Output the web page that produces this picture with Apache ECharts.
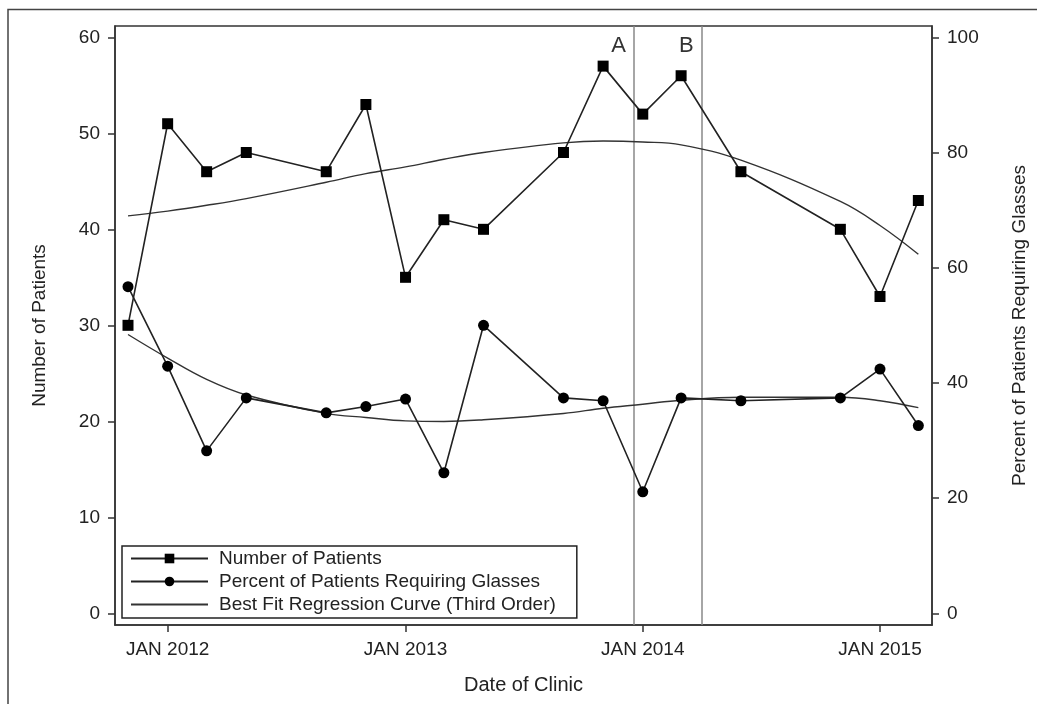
<!DOCTYPE html>
<html>
<head>
<meta charset="utf-8">
<title>Clinic patients and glasses</title>
<script src="https://cdn.jsdelivr.net/npm/echarts@6/dist/echarts.min.js"></script>
<style>
  html, body { margin: 0; padding: 0; background: #fff; }
  #chart { width: 1037px; height: 704px; }
</style>
</head>
<body>
<div id="chart"></div>
<script>
// clinic dates and readings
const clinicDates = [
  '2011-11-01', '2012-01-01', '2012-03-01', '2012-05-01', '2012-09-01', '2012-11-01',
  '2013-01-01', '2013-03-01', '2013-05-01', '2013-09-01', '2013-11-01', '2014-01-01',
  '2014-03-01', '2014-06-01', '2014-11-01', '2015-01-01', '2015-03-01'
]
const patients = [30, 51, 46, 48, 46, 53, 35, 41, 40, 48, 57, 52, 56, 46, 40, 33, 43]
const percentGlasses = [56.7, 42.9, 28.2, 37.4, 34.8, 35.9, 37.2, 24.4, 50, 37.4, 36.9, 21.1, 37.4, 36.9, 37.4, 42.4, 32.6]

// third order fits at the clinic dates
const patientsFit = [41.4, 41.9, 42.5, 43.2, 44.9, 45.8, 46.5, 47.3, 48.0, 49.0, 49.2, 49.1, 48.8, 47.2, 42.9, 40.4, 37.4]
const percentFit = [48.4, 44.3, 40.6, 37.9, 34.7, 34.0, 33.4, 33.3, 33.6, 34.7, 35.6, 36.3, 37.0, 37.5, 37.5, 36.9, 35.7]

const eventDates = ['2013-12-18', '2014-04-01']
const eventLabels = ['A', 'B']

const yearTicks = ['2012-01-01', '2013-01-01', '2014-01-01', '2015-01-01']
const patientTicks = [0, 10, 20, 30, 40, 50, 60]
const percentTicks = [0, 20, 40, 60, 80, 100]

const FIT_NAME = 'Best Fit Regression Curve (Third Order)'
const ts = d => Date.parse(d)
const font = 'Arial, "Liberation Sans", sans-serif'
const ink = '#222'

const chart = echarts.init(document.getElementById('chart'))

const option = {
  animation: false,
  backgroundColor: '#fff',
  textStyle: { fontFamily: font, color: ink },
  graphic: [
    {
      type: 'rect',
      shape: { x: 8, y: 9.5, width: 1040, height: 720 },
      style: { fill: 'none', stroke: '#444', lineWidth: 1.5 },
      silent: true,
    },
  ],
  grid: {
    left: 115,
    right: 104,
    top: 26,
    bottom: 79,
    show: true,
    borderColor: '#333',
    borderWidth: 1.5,
  },
  legend: {
    orient: 'vertical',
    left: 122,
    top: 546,
    padding: [3, 21, 4, 8],
    itemGap: 4,
    itemWidth: 77,
    itemHeight: 12,
    backgroundColor: '#fff',
    borderColor: '#222',
    borderWidth: 1.5,
    borderRadius: 0,
    textStyle: { fontSize: 19, lineHeight: 19, color: ink, fontFamily: font, padding: [0, 0, 0, 6] },
    data: [
      'Number of Patients',
      'Percent of Patients Requiring Glasses',
      { name: FIT_NAME, itemStyle: { opacity: 0 } },
    ],
  },
  xAxis: {
    type: 'value',
    min: ts('2011-10-12'),
    max: ts('2015-03-22'),
    name: 'Date of Clinic',
    nameLocation: 'middle',
    nameGap: 50,
    nameTextStyle: { fontSize: 20, color: ink },
    axisLine: { onZero: false, lineStyle: { color: '#333', width: 1.5 } },
    axisTick: { length: 7, lineStyle: { color: '#333', width: 1.5 }, customValues: yearTicks.map(ts) },
    axisLabel: {
      fontSize: 19,
      color: ink,
      margin: 15,
      customValues: yearTicks.map(ts),
      formatter: v => 'JAN ' + new Date(v).getUTCFullYear(),
    },
    splitLine: { show: false },
  },
  yAxis: [
    {
      type: 'value',
      min: -1.22,
      max: 61.18,
      name: 'Number of Patients',
      nameLocation: 'middle',
      nameGap: 66,
      nameTextStyle: { fontSize: 19, color: ink },
      axisLine: { show: true, onZero: false, lineStyle: { color: '#333', width: 1.5 } },
      axisTick: { show: true, length: 7, lineStyle: { color: '#333', width: 1.5 }, customValues: patientTicks },
      axisLabel: { fontSize: 19, color: ink, margin: 15, customValues: patientTicks },
      splitLine: { show: false },
    },
    {
      type: 'value',
      min: -2.03,
      max: 101.96,
      position: 'right',
      name: 'Percent of Patients Requiring Glasses',
      nameLocation: 'middle',
      nameGap: 78,
      nameTextStyle: { fontSize: 19, color: ink },
      axisLine: { show: true, onZero: false, lineStyle: { color: '#333', width: 1.5 } },
      axisTick: { show: true, length: 7, lineStyle: { color: '#333', width: 1.5 }, customValues: percentTicks },
      axisLabel: { fontSize: 19, color: ink, margin: 15, customValues: percentTicks },
      splitLine: { show: false },
    },
  ],
  series: [
    {
      name: 'Number of Patients',
      type: 'line',
      yAxisIndex: 0,
      data: clinicDates.map((d, i) => [ts(d), patients[i]]),
      symbol: 'rect',
      symbolSize: 11,
      lineStyle: { color: ink, width: 1.6 },
      itemStyle: { color: '#000' },
      z: 3,
      markLine: {
        silent: true,
        symbol: 'none',
        label: { show: false },
        lineStyle: { color: '#888', width: 1.5, type: 'solid' },
        data: eventDates.map(d => ({ xAxis: ts(d) })),
        z: 1,
      },
      markPoint: {
        silent: true,
        symbol: 'circle',
        symbolSize: 0,
        label: {
          show: true,
          position: 'inside',
          offset: [-15, 0],
          fontSize: 22,
          color: '#333',
          formatter: p => p.name,
        },
        data: eventDates.map((d, i) => ({ name: eventLabels[i], coord: [ts(d), 59.1] })),
      },
    },
    {
      name: 'Percent of Patients Requiring Glasses',
      type: 'line',
      yAxisIndex: 1,
      data: clinicDates.map((d, i) => [ts(d), percentGlasses[i]]),
      symbol: 'circle',
      symbolSize: 11,
      lineStyle: { color: ink, width: 1.6 },
      itemStyle: { color: '#000' },
      z: 3,
    },
    {
      name: FIT_NAME,
      type: 'line',
      yAxisIndex: 0,
      data: clinicDates.map((d, i) => [ts(d), patientsFit[i]]),
      smooth: 0.4,
      symbol: 'none',
      lineStyle: { color: '#333', width: 1.4 },
      itemStyle: { color: '#333' },
      z: 2,
    },
    {
      name: FIT_NAME,
      type: 'line',
      yAxisIndex: 1,
      data: clinicDates.map((d, i) => [ts(d), percentFit[i]]),
      smooth: 0.4,
      symbol: 'none',
      lineStyle: { color: '#333', width: 1.4 },
      itemStyle: { color: '#333' },
      z: 2,
    },
  ],
}

chart.setOption(option)
</script>
</body>
</html>
